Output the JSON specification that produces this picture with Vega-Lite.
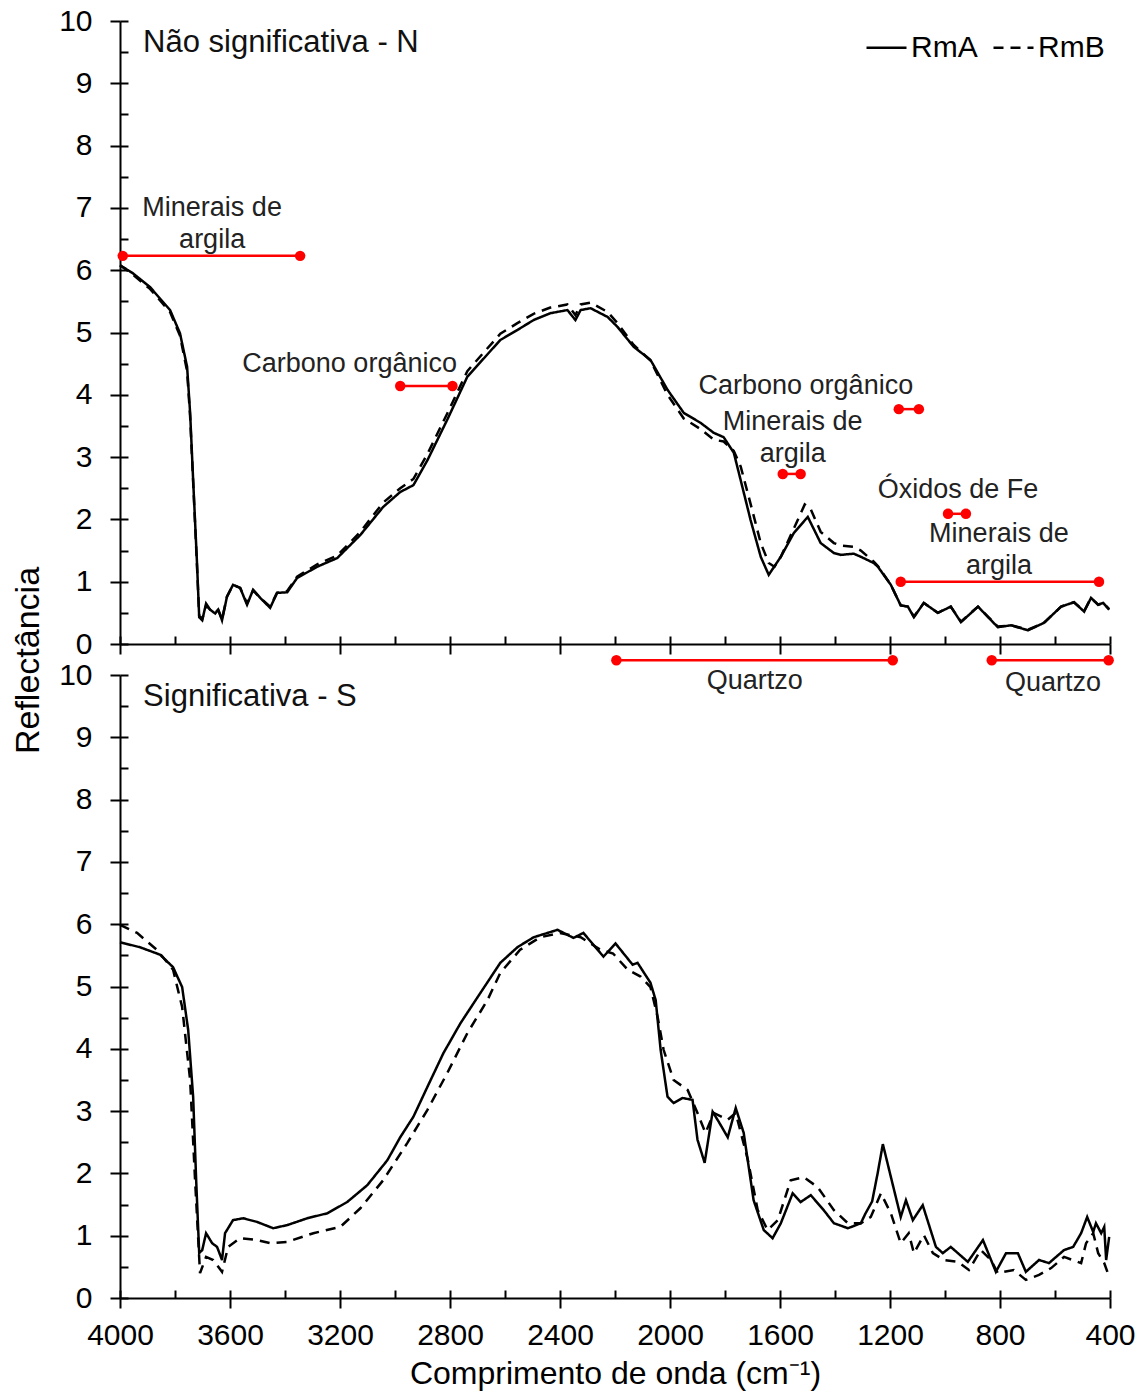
{
"$schema": "https://vega.github.io/schema/vega-lite/v6.json",
"padding": {"left": 11, "top": 6, "right": 6, "bottom": 4},
"background": "white",
"config": {
  "view": {"stroke": null},
  "font": "Liberation Sans",
  "axis": {"grid": false, "domainColor": "black", "tickColor": "black", "labelColor": "black", "titleColor": "black", "domainWidth": 2, "tickWidth": 2, "labelFont": "Liberation Sans", "titleFont": "Liberation Sans", "titleFontWeight": "normal", "labelFontSize": 30, "labelOverlap": false, "labelFlush": false, "labelBound": false}
},
"datasets": {
  "top": [
    {"wn":4000,"r":6.08,"s":"RmA"},{"wn":3953,"r":5.95,"s":"RmA"},{"wn":3891,"r":5.73,"s":"RmA"},{"wn":3818,"r":5.36,"s":"RmA"},{"wn":3782,"r":4.99,"s":"RmA"},{"wn":3756,"r":4.45,"s":"RmA"},{"wn":3745,"r":3.71,"s":"RmA"},{"wn":3734,"r":2.63,"s":"RmA"},{"wn":3720,"r":1.30,"s":"RmA"},{"wn":3712,"r":0.43,"s":"RmA"},{"wn":3701,"r":0.38,"s":"RmA"},{"wn":3687,"r":0.65,"s":"RmA"},{"wn":3672,"r":0.55,"s":"RmA"},{"wn":3654,"r":0.49,"s":"RmA"},{"wn":3643,"r":0.55,"s":"RmA"},{"wn":3629,"r":0.38,"s":"RmA"},{"wn":3611,"r":0.76,"s":"RmA"},{"wn":3589,"r":0.95,"s":"RmA"},{"wn":3563,"r":0.90,"s":"RmA"},{"wn":3538,"r":0.63,"s":"RmA"},{"wn":3516,"r":0.87,"s":"RmA"},{"wn":3490,"r":0.74,"s":"RmA"},{"wn":3454,"r":0.58,"s":"RmA"},{"wn":3429,"r":0.82,"s":"RmA"},{"wn":3392,"r":0.83,"s":"RmA"},{"wn":3356,"r":1.06,"s":"RmA"},{"wn":3283,"r":1.24,"s":"RmA"},{"wn":3210,"r":1.38,"s":"RmA"},{"wn":3126,"r":1.75,"s":"RmA"},{"wn":3043,"r":2.20,"s":"RmA"},{"wn":2981,"r":2.44,"s":"RmA"},{"wn":2933,"r":2.55,"s":"RmA"},{"wn":2882,"r":2.95,"s":"RmA"},{"wn":2810,"r":3.60,"s":"RmA"},{"wn":2737,"r":4.29,"s":"RmA"},{"wn":2617,"r":4.88,"s":"RmA"},{"wn":2555,"r":5.04,"s":"RmA"},{"wn":2496,"r":5.20,"s":"RmA"},{"wn":2435,"r":5.31,"s":"RmA"},{"wn":2373,"r":5.36,"s":"RmA"},{"wn":2344,"r":5.20,"s":"RmA"},{"wn":2325,"r":5.36,"s":"RmA"},{"wn":2289,"r":5.39,"s":"RmA"},{"wn":2227,"r":5.25,"s":"RmA"},{"wn":2191,"r":5.09,"s":"RmA"},{"wn":2132,"r":4.77,"s":"RmA"},{"wn":2071,"r":4.56,"s":"RmA"},{"wn":2009,"r":4.08,"s":"RmA"},{"wn":1950,"r":3.71,"s":"RmA"},{"wn":1889,"r":3.55,"s":"RmA"},{"wn":1841,"r":3.39,"s":"RmA"},{"wn":1805,"r":3.32,"s":"RmA"},{"wn":1768,"r":3.07,"s":"RmA"},{"wn":1743,"r":2.63,"s":"RmA"},{"wn":1707,"r":1.99,"s":"RmA"},{"wn":1670,"r":1.40,"s":"RmA"},{"wn":1641,"r":1.11,"s":"RmA"},{"wn":1597,"r":1.40,"s":"RmA"},{"wn":1550,"r":1.78,"s":"RmA"},{"wn":1499,"r":2.04,"s":"RmA"},{"wn":1452,"r":1.62,"s":"RmA"},{"wn":1404,"r":1.46,"s":"RmA"},{"wn":1379,"r":1.43,"s":"RmA"},{"wn":1332,"r":1.45,"s":"RmA"},{"wn":1306,"r":1.40,"s":"RmA"},{"wn":1259,"r":1.30,"s":"RmA"},{"wn":1244,"r":1.24,"s":"RmA"},{"wn":1197,"r":0.95,"s":"RmA"},{"wn":1161,"r":0.62,"s":"RmA"},{"wn":1135,"r":0.60,"s":"RmA"},{"wn":1113,"r":0.43,"s":"RmA"},{"wn":1077,"r":0.66,"s":"RmA"},{"wn":1026,"r":0.50,"s":"RmA"},{"wn":979,"r":0.60,"s":"RmA"},{"wn":942,"r":0.35,"s":"RmA"},{"wn":880,"r":0.60,"s":"RmA"},{"wn":808,"r":0.27,"s":"RmA"},{"wn":760,"r":0.30,"s":"RmA"},{"wn":698,"r":0.22,"s":"RmA"},{"wn":640,"r":0.34,"s":"RmA"},{"wn":578,"r":0.60,"s":"RmA"},{"wn":531,"r":0.67,"s":"RmA"},{"wn":494,"r":0.52,"s":"RmA"},{"wn":469,"r":0.74,"s":"RmA"},{"wn":443,"r":0.63,"s":"RmA"},{"wn":425,"r":0.66,"s":"RmA"},{"wn":403,"r":0.55,"s":"RmA"},
    {"wn":4000,"r":6.08,"s":"RmB"},{"wn":3953,"r":5.93,"s":"RmB"},{"wn":3891,"r":5.70,"s":"RmB"},{"wn":3818,"r":5.33,"s":"RmB"},{"wn":3782,"r":4.95,"s":"RmB"},{"wn":3756,"r":4.38,"s":"RmB"},{"wn":3745,"r":3.65,"s":"RmB"},{"wn":3734,"r":2.60,"s":"RmB"},{"wn":3720,"r":1.25,"s":"RmB"},{"wn":3712,"r":0.45,"s":"RmB"},{"wn":3701,"r":0.40,"s":"RmB"},{"wn":3687,"r":0.62,"s":"RmB"},{"wn":3672,"r":0.55,"s":"RmB"},{"wn":3654,"r":0.50,"s":"RmB"},{"wn":3643,"r":0.55,"s":"RmB"},{"wn":3629,"r":0.40,"s":"RmB"},{"wn":3611,"r":0.76,"s":"RmB"},{"wn":3589,"r":0.95,"s":"RmB"},{"wn":3563,"r":0.90,"s":"RmB"},{"wn":3538,"r":0.65,"s":"RmB"},{"wn":3516,"r":0.86,"s":"RmB"},{"wn":3490,"r":0.74,"s":"RmB"},{"wn":3454,"r":0.60,"s":"RmB"},{"wn":3429,"r":0.82,"s":"RmB"},{"wn":3392,"r":0.85,"s":"RmB"},{"wn":3356,"r":1.08,"s":"RmB"},{"wn":3283,"r":1.28,"s":"RmB"},{"wn":3210,"r":1.42,"s":"RmB"},{"wn":3126,"r":1.80,"s":"RmB"},{"wn":3043,"r":2.27,"s":"RmB"},{"wn":2981,"r":2.50,"s":"RmB"},{"wn":2933,"r":2.65,"s":"RmB"},{"wn":2882,"r":3.05,"s":"RmB"},{"wn":2810,"r":3.70,"s":"RmB"},{"wn":2737,"r":4.38,"s":"RmB"},{"wn":2617,"r":4.98,"s":"RmB"},{"wn":2555,"r":5.15,"s":"RmB"},{"wn":2496,"r":5.30,"s":"RmB"},{"wn":2435,"r":5.40,"s":"RmB"},{"wn":2373,"r":5.45,"s":"RmB"},{"wn":2344,"r":5.28,"s":"RmB"},{"wn":2325,"r":5.45,"s":"RmB"},{"wn":2289,"r":5.48,"s":"RmB"},{"wn":2227,"r":5.33,"s":"RmB"},{"wn":2191,"r":5.15,"s":"RmB"},{"wn":2132,"r":4.80,"s":"RmB"},{"wn":2071,"r":4.55,"s":"RmB"},{"wn":2009,"r":4.00,"s":"RmB"},{"wn":1950,"r":3.62,"s":"RmB"},{"wn":1889,"r":3.45,"s":"RmB"},{"wn":1841,"r":3.28,"s":"RmB"},{"wn":1805,"r":3.25,"s":"RmB"},{"wn":1768,"r":3.10,"s":"RmB"},{"wn":1743,"r":2.85,"s":"RmB"},{"wn":1707,"r":2.25,"s":"RmB"},{"wn":1670,"r":1.62,"s":"RmB"},{"wn":1641,"r":1.30,"s":"RmB"},{"wn":1620,"r":1.24,"s":"RmB"},{"wn":1597,"r":1.40,"s":"RmB"},{"wn":1550,"r":1.85,"s":"RmB"},{"wn":1510,"r":2.24,"s":"RmB"},{"wn":1490,"r":2.18,"s":"RmB"},{"wn":1452,"r":1.80,"s":"RmB"},{"wn":1404,"r":1.62,"s":"RmB"},{"wn":1379,"r":1.58,"s":"RmB"},{"wn":1332,"r":1.56,"s":"RmB"},{"wn":1306,"r":1.50,"s":"RmB"},{"wn":1259,"r":1.32,"s":"RmB"},{"wn":1244,"r":1.25,"s":"RmB"},{"wn":1197,"r":0.95,"s":"RmB"},{"wn":1161,"r":0.62,"s":"RmB"},{"wn":1135,"r":0.60,"s":"RmB"},{"wn":1113,"r":0.44,"s":"RmB"},{"wn":1077,"r":0.66,"s":"RmB"},{"wn":1026,"r":0.50,"s":"RmB"},{"wn":979,"r":0.60,"s":"RmB"},{"wn":942,"r":0.36,"s":"RmB"},{"wn":880,"r":0.60,"s":"RmB"},{"wn":808,"r":0.28,"s":"RmB"},{"wn":760,"r":0.30,"s":"RmB"},{"wn":698,"r":0.23,"s":"RmB"},{"wn":640,"r":0.34,"s":"RmB"},{"wn":578,"r":0.60,"s":"RmB"},{"wn":531,"r":0.67,"s":"RmB"},{"wn":494,"r":0.53,"s":"RmB"},{"wn":469,"r":0.74,"s":"RmB"},{"wn":443,"r":0.63,"s":"RmB"},{"wn":425,"r":0.66,"s":"RmB"},{"wn":403,"r":0.56,"s":"RmB"}
  ],
  "bot": [
    {"wn":4000,"r":5.71,"s":"RmA"},{"wn":3927,"r":5.63,"s":"RmA"},{"wn":3854,"r":5.51,"s":"RmA"},{"wn":3807,"r":5.31,"s":"RmA"},{"wn":3774,"r":4.99,"s":"RmA"},{"wn":3752,"r":4.30,"s":"RmA"},{"wn":3734,"r":3.23,"s":"RmA"},{"wn":3723,"r":1.89,"s":"RmA"},{"wn":3712,"r":0.72,"s":"RmA"},{"wn":3701,"r":0.77,"s":"RmA"},{"wn":3687,"r":1.04,"s":"RmA"},{"wn":3665,"r":0.88,"s":"RmA"},{"wn":3647,"r":0.82,"s":"RmA"},{"wn":3629,"r":0.61,"s":"RmA"},{"wn":3618,"r":1.04,"s":"RmA"},{"wn":3589,"r":1.25,"s":"RmA"},{"wn":3552,"r":1.28,"s":"RmA"},{"wn":3501,"r":1.22,"s":"RmA"},{"wn":3443,"r":1.12,"s":"RmA"},{"wn":3392,"r":1.17,"s":"RmA"},{"wn":3319,"r":1.28,"s":"RmA"},{"wn":3246,"r":1.36,"s":"RmA"},{"wn":3174,"r":1.54,"s":"RmA"},{"wn":3101,"r":1.81,"s":"RmA"},{"wn":3028,"r":2.21,"s":"RmA"},{"wn":2981,"r":2.58,"s":"RmA"},{"wn":2933,"r":2.91,"s":"RmA"},{"wn":2882,"r":3.39,"s":"RmA"},{"wn":2824,"r":3.93,"s":"RmA"},{"wn":2762,"r":4.41,"s":"RmA"},{"wn":2689,"r":4.90,"s":"RmA"},{"wn":2617,"r":5.38,"s":"RmA"},{"wn":2555,"r":5.63,"s":"RmA"},{"wn":2496,"r":5.79,"s":"RmA"},{"wn":2409,"r":5.91,"s":"RmA"},{"wn":2351,"r":5.78,"s":"RmA"},{"wn":2315,"r":5.86,"s":"RmA"},{"wn":2242,"r":5.48,"s":"RmA"},{"wn":2198,"r":5.69,"s":"RmA"},{"wn":2136,"r":5.35,"s":"RmA"},{"wn":2118,"r":5.38,"s":"RmA"},{"wn":2071,"r":5.06,"s":"RmA"},{"wn":2052,"r":4.78,"s":"RmA"},{"wn":2034,"r":3.98,"s":"RmA"},{"wn":2009,"r":3.23,"s":"RmA"},{"wn":1987,"r":3.13,"s":"RmA"},{"wn":1954,"r":3.21,"s":"RmA"},{"wn":1918,"r":3.18,"s":"RmA"},{"wn":1900,"r":2.54,"s":"RmA"},{"wn":1874,"r":2.17,"s":"RmA"},{"wn":1845,"r":2.99,"s":"RmA"},{"wn":1823,"r":2.83,"s":"RmA"},{"wn":1790,"r":2.58,"s":"RmA"},{"wn":1761,"r":3.05,"s":"RmA"},{"wn":1732,"r":2.65,"s":"RmA"},{"wn":1696,"r":1.57,"s":"RmA"},{"wn":1659,"r":1.09,"s":"RmA"},{"wn":1627,"r":0.96,"s":"RmA"},{"wn":1597,"r":1.20,"s":"RmA"},{"wn":1554,"r":1.68,"s":"RmA"},{"wn":1525,"r":1.54,"s":"RmA"},{"wn":1488,"r":1.65,"s":"RmA"},{"wn":1441,"r":1.41,"s":"RmA"},{"wn":1404,"r":1.20,"s":"RmA"},{"wn":1353,"r":1.12,"s":"RmA"},{"wn":1306,"r":1.20,"s":"RmA"},{"wn":1290,"r":1.35,"s":"RmA"},{"wn":1265,"r":1.55,"s":"RmA"},{"wn":1245,"r":2.00,"s":"RmA"},{"wn":1226,"r":2.47,"s":"RmA"},{"wn":1190,"r":1.82,"s":"RmA"},{"wn":1161,"r":1.30,"s":"RmA"},{"wn":1142,"r":1.57,"s":"RmA"},{"wn":1117,"r":1.25,"s":"RmA"},{"wn":1081,"r":1.49,"s":"RmA"},{"wn":1033,"r":0.82,"s":"RmA"},{"wn":1008,"r":0.72,"s":"RmA"},{"wn":979,"r":0.82,"s":"RmA"},{"wn":917,"r":0.58,"s":"RmA"},{"wn":862,"r":0.93,"s":"RmA"},{"wn":815,"r":0.42,"s":"RmA"},{"wn":778,"r":0.72,"s":"RmA"},{"wn":735,"r":0.72,"s":"RmA"},{"wn":706,"r":0.42,"s":"RmA"},{"wn":658,"r":0.61,"s":"RmA"},{"wn":622,"r":0.56,"s":"RmA"},{"wn":567,"r":0.77,"s":"RmA"},{"wn":534,"r":0.82,"s":"RmA"},{"wn":505,"r":1.04,"s":"RmA"},{"wn":483,"r":1.30,"s":"RmA"},{"wn":461,"r":1.06,"s":"RmA"},{"wn":451,"r":1.20,"s":"RmA"},{"wn":432,"r":1.04,"s":"RmA"},{"wn":421,"r":1.14,"s":"RmA"},{"wn":414,"r":0.61,"s":"RmA"},{"wn":403,"r":0.98,"s":"RmA"},
    {"wn":4000,"r":5.99,"s":"RmB"},{"wn":3938,"r":5.86,"s":"RmB"},{"wn":3866,"r":5.59,"s":"RmB"},{"wn":3807,"r":5.27,"s":"RmB"},{"wn":3774,"r":4.67,"s":"RmB"},{"wn":3745,"r":3.50,"s":"RmB"},{"wn":3727,"r":1.89,"s":"RmB"},{"wn":3709,"r":0.40,"s":"RmB"},{"wn":3687,"r":0.66,"s":"RmB"},{"wn":3661,"r":0.61,"s":"RmB"},{"wn":3629,"r":0.42,"s":"RmB"},{"wn":3607,"r":0.82,"s":"RmB"},{"wn":3563,"r":0.96,"s":"RmB"},{"wn":3501,"r":0.93,"s":"RmB"},{"wn":3454,"r":0.88,"s":"RmB"},{"wn":3392,"r":0.90,"s":"RmB"},{"wn":3297,"r":1.04,"s":"RmB"},{"wn":3199,"r":1.14,"s":"RmB"},{"wn":3126,"r":1.44,"s":"RmB"},{"wn":3043,"r":1.89,"s":"RmB"},{"wn":2955,"r":2.49,"s":"RmB"},{"wn":2882,"r":3.02,"s":"RmB"},{"wn":2810,"r":3.61,"s":"RmB"},{"wn":2737,"r":4.25,"s":"RmB"},{"wn":2664,"r":4.78,"s":"RmB"},{"wn":2617,"r":5.22,"s":"RmB"},{"wn":2545,"r":5.59,"s":"RmB"},{"wn":2472,"r":5.79,"s":"RmB"},{"wn":2400,"r":5.86,"s":"RmB"},{"wn":2325,"r":5.79,"s":"RmB"},{"wn":2253,"r":5.59,"s":"RmB"},{"wn":2207,"r":5.53,"s":"RmB"},{"wn":2154,"r":5.27,"s":"RmB"},{"wn":2107,"r":5.16,"s":"RmB"},{"wn":2071,"r":4.99,"s":"RmB"},{"wn":2045,"r":4.51,"s":"RmB"},{"wn":2023,"r":3.98,"s":"RmB"},{"wn":1987,"r":3.50,"s":"RmB"},{"wn":1936,"r":3.34,"s":"RmB"},{"wn":1900,"r":2.97,"s":"RmB"},{"wn":1871,"r":2.65,"s":"RmB"},{"wn":1841,"r":2.97,"s":"RmB"},{"wn":1790,"r":2.86,"s":"RmB"},{"wn":1761,"r":2.97,"s":"RmB"},{"wn":1717,"r":2.22,"s":"RmB"},{"wn":1681,"r":1.41,"s":"RmB"},{"wn":1645,"r":1.09,"s":"RmB"},{"wn":1608,"r":1.25,"s":"RmB"},{"wn":1561,"r":1.89,"s":"RmB"},{"wn":1514,"r":1.94,"s":"RmB"},{"wn":1463,"r":1.78,"s":"RmB"},{"wn":1404,"r":1.41,"s":"RmB"},{"wn":1353,"r":1.20,"s":"RmB"},{"wn":1306,"r":1.20,"s":"RmB"},{"wn":1270,"r":1.30,"s":"RmB"},{"wn":1233,"r":1.68,"s":"RmB"},{"wn":1197,"r":1.36,"s":"RmB"},{"wn":1161,"r":0.88,"s":"RmB"},{"wn":1132,"r":1.04,"s":"RmB"},{"wn":1113,"r":0.72,"s":"RmB"},{"wn":1077,"r":1.01,"s":"RmB"},{"wn":1044,"r":0.72,"s":"RmB"},{"wn":1004,"r":0.61,"s":"RmB"},{"wn":953,"r":0.58,"s":"RmB"},{"wn":913,"r":0.45,"s":"RmB"},{"wn":870,"r":0.77,"s":"RmB"},{"wn":833,"r":0.61,"s":"RmB"},{"wn":808,"r":0.40,"s":"RmB"},{"wn":750,"r":0.45,"s":"RmB"},{"wn":706,"r":0.29,"s":"RmB"},{"wn":658,"r":0.37,"s":"RmB"},{"wn":614,"r":0.48,"s":"RmB"},{"wn":567,"r":0.66,"s":"RmB"},{"wn":505,"r":0.56,"s":"RmB"},{"wn":487,"r":0.88,"s":"RmB"},{"wn":461,"r":1.04,"s":"RmB"},{"wn":443,"r":0.72,"s":"RmB"},{"wn":421,"r":0.56,"s":"RmB"},{"wn":403,"r":0.34,"s":"RmB"}
  ],
  "ranges": [
    {"x1":3990,"x2":3345,"y":6.23},
    {"x1":2981,"x2":2791,"y":4.14},
    {"x1":1168,"x2":1095,"y":3.77},
    {"x1":1590,"x2":1525,"y":2.73},
    {"x1":989,"x2":924,"y":2.09},
    {"x1":1161,"x2":440,"y":1.0},
    {"x1":2195,"x2":1190,"y":-0.26},
    {"x1":830,"x2":405,"y":-0.26}
  ],
  "labels": [
    {"x":3665,"y":7.0,"t":"Minerais de\nargila"},
    {"x":3165,"y":4.49,"t":"Carbono orgânico"},
    {"x":1506,"y":4.14,"t":"Carbono orgânico"},
    {"x":1554,"y":3.56,"t":"Minerais de\nargila"},
    {"x":953,"y":2.47,"t":"Óxidos de Fe"},
    {"x":804,"y":1.77,"t":"Minerais de\nargila"},
    {"x":1692,"y":-0.59,"t":"Quartzo"},
    {"x":607,"y":-0.62,"t":"Quartzo"}
  ]
},
"spacing": 31,
"bounds": "flush",
"vconcat": [
  {
    "width": 990, "height": 623,
    "layer": [
      {
        "data": {"name": "top"},
        "mark": {"type": "line", "color": "black", "strokeWidth": 2.5},
        "encoding": {
          "x": {"field": "wn", "type": "quantitative", "scale": {"domain": [400, 4000], "reverse": true, "nice": false, "zero": false},
                "axis": {"orient": "bottom", "values": [4000,3600,3200,2800,2400,2000,1600,1200,800,400], "labels": false, "tickSize": 10, "title": null}},
          "y": {"field": "r", "type": "quantitative", "scale": {"domain": [0, 10], "nice": false},
                "axis": {"orient": "left", "values": [0,1,2,3,4,5,6,7,8,9,10], "format": "d", "tickSize": 10, "labelPadding": 18, "title": "Reflectância", "titleFontSize": 34, "titleX": -92, "titleY": 639, "titleAngle": -90, "titleAlign": "center", "titleBaseline": "middle"}},
          "strokeDash": {"field": "s", "type": "nominal", "scale": {"domain": ["RmA", "RmB"], "range": [[1, 0], [10, 7]]},
                "legend": {"orient": "top-right", "direction": "horizontal", "title": null, "labelFontSize": 30, "labelColor": "black", "labelFont": "Liberation Sans", "symbolType": "stroke", "symbolStrokeWidth": 2.5, "symbolStrokeColor": "black", "symbolSize": 1600, "labelOffset": 3, "columnPadding": 10, "offset": 5, "padding": 0}}
        }
      },
      {
        "data": {"name": "ranges"},
        "mark": {"type": "rule", "color": "#ff0000", "strokeWidth": 2.5},
        "encoding": {
          "x": {"field": "x1", "type": "quantitative", "axis": {"orient": "bottom", "values": [4000,3800,3600,3400,3200,3000,2800,2600,2400,2200,2000,1800,1600,1400,1200,1000,800,600,400], "labels": false, "domain": false, "tickSize": -8, "title": null}},
          "x2": {"field": "x2"},
          "y": {"field": "y", "type": "quantitative", "axis": {"orient": "left", "values": [0,0.5,1,1.5,2,2.5,3,3.5,4,4.5,5,5.5,6,6.5,7,7.5,8,8.5,9,9.5,10], "labels": false, "domain": false, "tickSize": -8, "title": null}}
        }
      },
      {
        "data": {"name": "ranges"},
        "mark": {"type": "circle", "color": "#ff0000", "size": 110, "opacity": 1},
        "encoding": {
          "x": {"field": "x1", "type": "quantitative", "axis": null},
          "y": {"field": "y", "type": "quantitative", "axis": null}
        }
      },
      {
        "data": {"name": "ranges"},
        "mark": {"type": "circle", "color": "#ff0000", "size": 110, "opacity": 1},
        "encoding": {
          "x": {"field": "x2", "type": "quantitative", "axis": null},
          "y": {"field": "y", "type": "quantitative", "axis": null}
        }
      },
      {
        "data": {"name": "labels"},
        "mark": {"type": "text", "fontSize": 27, "lineBreak": "\n", "lineHeight": 32, "align": "center", "baseline": "middle", "color": "#222222"},
        "encoding": {
          "x": {"field": "x", "type": "quantitative", "axis": null},
          "y": {"field": "y", "type": "quantitative", "axis": null},
          "text": {"field": "t", "type": "nominal"}
        }
      },
      {
        "data": {"values": [{"x": 3916, "y": 9.65, "t": "Não significativa - N"}]},
        "mark": {"type": "text", "fontSize": 31, "align": "left", "baseline": "middle", "color": "#111111"},
        "encoding": {
          "x": {"field": "x", "type": "quantitative", "axis": null},
          "y": {"field": "y", "type": "quantitative", "axis": null},
          "text": {"field": "t", "type": "nominal"}
        }
      }
    ],
    "resolve": {"axis": {"x": "independent", "y": "independent"}}
  },
  {
    "width": 990, "height": 623,
    "layer": [
      {
        "data": {"name": "bot"},
        "mark": {"type": "line", "color": "black", "strokeWidth": 2.5},
        "encoding": {
          "x": {"field": "wn", "type": "quantitative", "scale": {"domain": [400, 4000], "reverse": true, "nice": false, "zero": false},
                "axis": {"orient": "bottom", "values": [4000,3600,3200,2800,2400,2000,1600,1200,800,400], "format": "d", "tickSize": 10, "labelPadding": 12, "title": "Comprimento de onda (cm⁻¹)", "titleFontSize": 32, "titlePadding": 8}},
          "y": {"field": "r", "type": "quantitative", "scale": {"domain": [0, 10], "nice": false},
                "axis": {"orient": "left", "values": [0,1,2,3,4,5,6,7,8,9,10], "format": "d", "tickSize": 10, "labelPadding": 18, "title": null}},
          "strokeDash": {"field": "s", "type": "nominal", "scale": {"domain": ["RmA", "RmB"], "range": [[1, 0], [10, 7]]}, "legend": null}
        }
      },
      {
        "data": {"values": [{"x": 3916, "y": 9.65, "t": "Significativa - S"}]},
        "mark": {"type": "text", "fontSize": 31, "align": "left", "baseline": "middle", "color": "#111111"},
        "encoding": {
          "x": {"field": "x", "type": "quantitative", "axis": {"orient": "bottom", "values": [4000,3800,3600,3400,3200,3000,2800,2600,2400,2200,2000,1800,1600,1400,1200,1000,800,600,400], "labels": false, "domain": false, "tickSize": -8, "title": null}},
          "y": {"field": "y", "type": "quantitative", "axis": {"orient": "left", "values": [0,0.5,1,1.5,2,2.5,3,3.5,4,4.5,5,5.5,6,6.5,7,7.5,8,8.5,9,9.5,10], "labels": false, "domain": false, "tickSize": -8, "title": null}},
          "text": {"field": "t", "type": "nominal"}
        }
      }
    ],
    "resolve": {"axis": {"x": "independent", "y": "independent"}}
  }
]
}
